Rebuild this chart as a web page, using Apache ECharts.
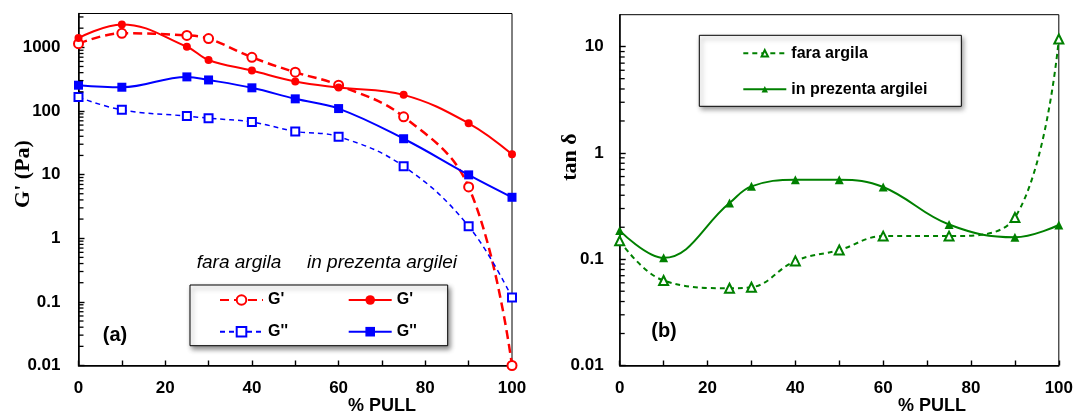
<!DOCTYPE html>
<html><head><meta charset="utf-8">
<script src="https://cdn.jsdelivr.net/npm/echarts@6/dist/echarts.min.js"></script>
<style>html,body{margin:0;padding:0;background:#fff;}#c{width:1076px;height:415px;}</style>
</head><body><div id="c"></div>
<script>
// ---- data ----
const xValues = [0, 10, 25, 30, 40, 50, 60, 75, 90, 100];
const gPrimeFara = [1140, 1660, 1540, 1370, 697, 406, 254, 81, 6.4, 0.01];
const gPrimePrezenta = [1400, 2290, 1020, 633, 431, 290, 233, 179, 64, 20.8];
const gSecondFara = [165, 104, 83, 77, 67, 47.7, 39.4, 13.5, 1.54, 0.117];
const gSecondPrezenta = [254, 236, 343, 307, 231, 155, 109, 36.6, 9.9, 4.4];
const tanFara = [0.149, 0.063, 0.0534, 0.0545, 0.0964, 0.122, 0.165, 0.165, 0.247, 11.8];
const tanPrezenta = [0.186, 0.103, 0.338, 0.485, 0.56, 0.56, 0.478, 0.212, 0.161, 0.21];
const xTickLabels = [0, 20, 40, 60, 80, 100];
const leftYTickLabels = [0.01, 0.1, 1, 10, 100, 1000];
const rightYTickLabels = [0.01, 0.1, 1, 10];
const seriesNames = ["G' fara", "G' prezenta", "G'' fara", "G'' prezenta"];
const rightNames = ["fara argila", "in prezenta argilei"];

const FONT = "'Liberation Sans', Arial, sans-serif";
const SERIF = "'Liberation Serif', 'Times New Roman', serif";
const LEFT_MAX = 3400, RIGHT_MAX = 20;

function pairs(arr) { return xValues.map((x, i) => [x, arr[i]]); }
function fmtNum(v) { return String(Number(v.toPrecision(6))); }
function inList(list, v) { return list.some(t => (t === 0 ? v === 0 : Math.abs(t - v) / t < 1e-6)); }
function minorTickValues(max) {
  const out = [];
  for (let e = -2; e <= 3; e++) for (let m = 2; m <= 9; m++) {
    const v = m * Math.pow(10, e);
    if (v < max) out.push(v);
  }
  return out;
}

const xAxisBase = (gi) => ({
  type: 'value', gridIndex: gi, min: 0, max: 100, interval: 10,
  axisLine: { show: true, lineStyle: { color: '#000', width: 1.5 } },
  axisTick: { show: true, inside: true, length: 5, lineStyle: { color: '#000', width: 1.4 } },
  axisLabel: { margin: 14, fontSize: 17, fontWeight: 'bold', color: '#000', fontFamily: FONT,
    formatter: v => inList(xTickLabels, v) ? String(v) : '' },
  splitLine: { show: false }
});
const yAxisBase = (gi, max, labels, margin) => ({
  type: 'log', logBase: 10, gridIndex: gi, min: 0.01, max: max,
  axisLine: { show: true, onZero: false, lineStyle: { color: '#000', width: 1.5 } },
  axisTick: { show: true, inside: true, length: 6, lineStyle: { color: '#000', width: 1.4 } },
  axisLabel: { margin: margin, fontSize: 17, fontWeight: 'bold', color: '#000', fontFamily: FONT,
    showMaxLabel: false,
    formatter: v => inList(labels, v) ? fmtNum(v) : '' },
  splitLine: { show: false }
});

const legendBox = {
  backgroundColor: '#fff', borderColor: '#000', borderWidth: 1,
  shadowBlur: 5, shadowColor: 'rgba(0,0,0,0.45)', shadowOffsetX: 2, shadowOffsetY: 3,
  selectedMode: false
};

const textGraphics = [
  { type: 'text', x: 239, y: 263, style: { text: 'fara argila', font: 'italic 19px ' + FONT, fill: '#000', align: 'center', verticalAlign: 'middle' } },
  { type: 'text', x: 382, y: 263, style: { text: 'in prezenta argilei', font: 'italic 19px ' + FONT, fill: '#000', align: 'center', verticalAlign: 'middle' } },
  { type: 'text', x: 115, y: 335, style: { text: '(a)', font: 'bold 20px ' + FONT, fill: '#000', align: 'center', verticalAlign: 'middle' } },
  { type: 'text', x: 664, y: 331, style: { text: '(b)', font: 'bold 20px ' + FONT, fill: '#000', align: 'center', verticalAlign: 'middle' } },
  { type: 'text', x: 382, y: 406, style: { text: '% PULL', font: 'bold 18px ' + FONT, fill: '#000', align: 'center', verticalAlign: 'middle' } },
  { type: 'text', x: 932, y: 406, style: { text: '% PULL', font: 'bold 18px ' + FONT, fill: '#000', align: 'center', verticalAlign: 'middle' } },
  { type: 'text', x: 23, y: 174, rotation: Math.PI / 2, style: { text: "G' (Pa)", font: 'bold 22px ' + SERIF, fill: '#000', align: 'center', verticalAlign: 'middle' } },
  { type: 'text', x: 570, y: 157, rotation: Math.PI / 2, style: { text: 'tan δ', font: 'bold 22px ' + SERIF, fill: '#000', align: 'center', verticalAlign: 'middle' } }
];

const option = {
  animation: false,
  backgroundColor: '#fff',
  textStyle: { fontFamily: FONT },
  grid: [
    { left: 78.5, top: 13.5, width: 433.5, height: 352, show: true, borderColor: '#000', borderWidth: 1, backgroundColor: 'transparent' },
    { left: 619.7, top: 14.7, width: 439.6, height: 350.8, show: true, borderColor: '#000', borderWidth: 1, backgroundColor: 'transparent' }
  ],
  xAxis: [xAxisBase(0), xAxisBase(1)],
  yAxis: [yAxisBase(0, LEFT_MAX, leftYTickLabels, 18), yAxisBase(1, RIGHT_MAX, rightYTickLabels, 16)],
  legend: [
    Object.assign({
      orient: 'vertical', left: 190, top: 285, height: 50, itemGap: 15.7,
      itemWidth: 43, itemHeight: 12, padding: [7, 27, 6, 29],
      data: [seriesNames[0], seriesNames[2], seriesNames[1], seriesNames[3]],
      formatter: name => '{' + (name.indexOf('fara') >= 0 ? 'c1' : 'c2') + '|' + name.split(' ')[0] + '}',
      textStyle: { fontSize: 16, fontWeight: 'bold', fontFamily: FONT, color: '#000', lineHeight: 16,
        rich: {
          c1: { width: 64, fontSize: 16, fontWeight: 'bold', fontFamily: FONT, color: '#000', lineHeight: 16 },
          c2: { width: 24, fontSize: 16, fontWeight: 'bold', fontFamily: FONT, color: '#000', lineHeight: 16 }
        } }
    }, legendBox),
    Object.assign({
      orient: 'vertical', left: 699.3, top: 35.3, itemGap: 20,
      itemWidth: 43, itemHeight: 8, padding: [10, 34, 9, 43],
      data: rightNames,
      textStyle: { fontSize: 16, fontWeight: 'bold', fontFamily: FONT, color: '#000', lineHeight: 16 }
    }, legendBox)
  ],
  graphic: textGraphics,
  series: [
    { name: seriesNames[0], type: 'line', xAxisIndex: 0, yAxisIndex: 0, data: pairs(gPrimeFara), smooth: 0.4, clip: false,
      symbol: 'emptyCircle', symbolSize: 9, lineStyle: { color: '#ff0000', width: 2.5, type: [9, 5] },
      itemStyle: { color: '#ff0000', borderWidth: 1.5 } },
    { name: seriesNames[1], type: 'line', xAxisIndex: 0, yAxisIndex: 0, data: pairs(gPrimePrezenta), smooth: 0.4, clip: false,
      symbol: 'circle', symbolSize: 8, lineStyle: { color: '#ff0000', width: 2 },
      itemStyle: { color: '#ff0000' } },
    { name: seriesNames[2], type: 'line', xAxisIndex: 0, yAxisIndex: 0, data: pairs(gSecondFara), smooth: 0.4, clip: false,
      symbol: 'emptyRect', symbolSize: 8, lineStyle: { color: '#0000ff', width: 1.5, type: [5, 4] },
      itemStyle: { color: '#0000ff', borderWidth: 1.5 } },
    { name: seriesNames[3], type: 'line', xAxisIndex: 0, yAxisIndex: 0, data: pairs(gSecondPrezenta), smooth: 0.4, clip: false,
      symbol: 'rect', symbolSize: 9, lineStyle: { color: '#0000ff', width: 2 },
      itemStyle: { color: '#0000ff' } },
    { name: rightNames[0], type: 'line', xAxisIndex: 1, yAxisIndex: 1, data: pairs(tanFara), smooth: 0.4, clip: false,
      symbol: 'emptyTriangle', symbolSize: 9, lineStyle: { color: '#008000', width: 2, type: [5, 4] },
      itemStyle: { color: '#008000', borderWidth: 1.5 } },
    { name: rightNames[1], type: 'line', xAxisIndex: 1, yAxisIndex: 1, data: pairs(tanPrezenta), smooth: 0.4, clip: false,
      symbol: 'triangle', symbolSize: 9, lineStyle: { color: '#008000', width: 2 },
      itemStyle: { color: '#008000' } }
  ]
};

const chart = echarts.init(document.getElementById('c'), null, { renderer: 'canvas' });
chart.setOption(option);

// minor log ticks, positioned through the axes' own scales
const tickGraphics = [];
[[0, LEFT_MAX], [1, RIGHT_MAX]].forEach(([gi, max]) => {
  minorTickValues(max).forEach(v => {
    const p = chart.convertToPixel({ gridIndex: gi }, [0, v]);
    if (p && isFinite(p[0]) && isFinite(p[1])) {
      tickGraphics.push({ type: 'line', z: 10, silent: true,
        shape: { x1: p[0], y1: p[1], x2: p[0] + 5, y2: p[1] },
        style: { stroke: '#000', lineWidth: 1.3 } });
    }
  });
});
chart.setOption({ graphic: textGraphics.concat(tickGraphics) });
</script>
</body></html>
